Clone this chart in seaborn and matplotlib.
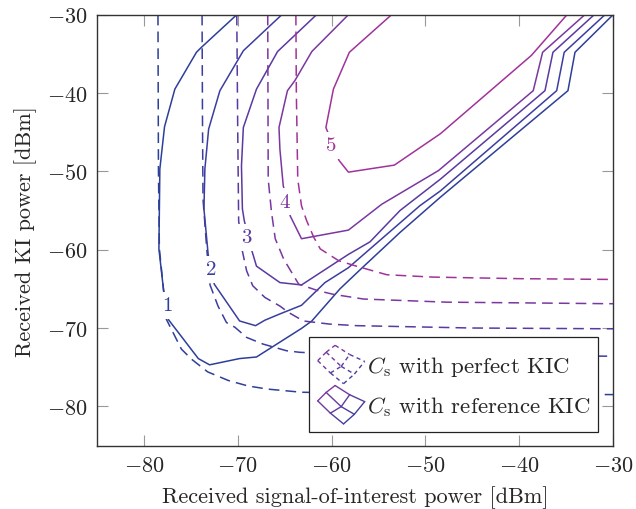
import numpy as np
import pandas as pd
import matplotlib
matplotlib.use("Agg")
import matplotlib.pyplot as plt
import seaborn as sns
from matplotlib.legend_handler import HandlerBase
from matplotlib.lines import Line2D
from matplotlib.colors import to_rgb

# contour levels of C_s and their colours
levels = [1, 2, 3, 4, 5]
level_colors = ["#2d3f98", "#3b3d9f", "#5a39a1", "#7b37a0", "#a0339a"]

# C_s with reference KIC (solid contours)
ref_x1 = [-70.1, -73.9, -74.4, -76.7, -77.8, -78.3, -78.4, -77.9, -77.4, -74.2, -73.0, -69.8, -68.0,
          -63.2, -62.1, -59.1, -56.9, -52.7, -48.4, -34.8, -34.05, -29.9]
ref_y1 = [-30, -34.2, -34.8, -39.5, -44.3, -49.7, -59.9, -65.2, -68.9, -73.9, -74.7, -73.9, -73.7,
          -70.05, -69.1, -65.0, -62.5, -57.8, -53.3, -39.7, -34.8, -29.9]
ref_x2 = [-65.3, -69.4, -71.9, -73.1, -73.5, -73.6, -73.15, -72.5, -69.8, -68.1, -67.1, -65.5, -63.2,
          -60.7, -58.2, -55.7, -50.6, -48.4, -36.0, -35.2, -30.85]
ref_y2 = [-30, -34.6, -39.7, -44.6, -49.7, -54.8, -60.6, -64.4, -69.1, -69.7, -69.0, -68.2, -67.1,
          -64.2, -62.3, -59.7, -54.4, -52.5, -39.7, -34.8, -30]
ref_x3 = [-61.6, -65.75, -68.0, -69.4, -69.6, -69.5, -69.3, -68.5, -68.0, -65.5, -63.2, -58.2, -55.9,
          -52.7, -48.4, -37.25, -36.4, -32.0]
ref_y3 = [-30, -34.7, -39.5, -44.4, -49.3, -54.8, -56.3, -60.1, -62.1, -64.2, -64.5, -60.6, -59.0,
          -55.0, -51.0, -39.7, -34.8, -30]
ref_x4 = [-58.2, -62.1, -63.9, -64.7, -65.6, -65.5, -65.15, -64.4, -63.2, -58.2, -54.65, -48.6,
          -38.5, -37.5, -33.0]
ref_y4 = [-30, -34.7, -38.4, -39.7, -44.4, -47.2, -51.8, -55.7, -58.6, -57.5, -54.2, -49.9,
          -39.7, -34.8, -30]
ref_x5 = [-53.6, -58.1, -59.8, -60.6, -59.2, -58.2, -53.3, -48.4, -38.7, -34.9]
ref_y5 = [-30, -34.8, -39.5, -44.4, -48.6, -50.1, -49.2, -45.2, -35.2, -30]

# C_s with perfect KIC (dashed contours)
per_x1 = [-78.5, -78.45, -78.35, -77.95, -77.6, -76.0, -74.9, -73.2, -71.0, -68.9, -66.8, -63.2, -52.7, -30]
per_y1 = [-30, -49.7, -59.9, -64.6, -68.9, -72.7, -74.0, -75.6, -76.7, -77.4, -77.8, -78.2, -78.4, -78.5]
per_x2 = [-73.8, -73.75, -73.7, -73.3, -72.95, -72.1, -71.2, -70.3, -69.05, -67.3, -64.8, -63.4, -58.0, -30]
per_y2 = [-30, -44.6, -53.5, -59.9, -64.5, -67.2, -69.3, -69.9, -71.2, -72.05, -72.9, -73.1, -73.4, -73.6]
per_x3 = [-70.1, -70.0, -69.9, -69.5, -69.05, -68.4, -67.1, -65.5, -64.6, -63.0, -60.2, -57.3, -45, -30]
per_y3 = [-30, -44.6, -56.3, -60.2, -62.7, -64.6, -66.1, -67.2, -68.0, -69.1, -69.5, -69.7, -70.0, -70.1]
per_x4 = [-66.8, -66.75, -66.4, -66.0, -65.1, -63.5, -61.4, -59.8, -56.6, -47.7, -30]
per_y4 = [-30, -51.0, -55.2, -58.6, -61.2, -64.4, -65.25, -65.7, -66.3, -66.7, -66.9]
per_x5 = [-63.8, -63.75, -63.6, -63.2, -62.65, -61.9, -61.2, -59.25, -57.5, -54.1, -49.2, -40, -30]
per_y5 = [-30, -40, -51.0, -54.4, -56.3, -58.4, -59.9, -61.4, -62.05, -63.2, -63.5, -63.7, -63.8]

# contour label positions
label_x = [-77.5, -72.85, -69.05, -65.0, -60.0]
label_y = [-67.1, -62.5, -58.4, -53.9, -46.7]

ref_x = [ref_x1, ref_x2, ref_x3, ref_x4, ref_x5]
ref_y = [ref_y1, ref_y2, ref_y3, ref_y4, ref_y5]
per_x = [per_x1, per_x2, per_x3, per_x4, per_x5]
per_y = [per_y1, per_y2, per_y3, per_y4, per_y5]

frames = []
for lev, xs, ys in zip(levels, per_x, per_y):
    frames.append(pd.DataFrame({"x": xs, "y": ys, "level": lev, "kind": "perfect"}))
for lev, xs, ys in zip(levels, ref_x, ref_y):
    frames.append(pd.DataFrame({"x": xs, "y": ys, "level": lev, "kind": "reference"}))
df = pd.concat(frames, ignore_index=True)

sns.set_theme(style="ticks")
plt.rcParams.update({
    "font.family": "serif",
    "font.serif": ["cmr10"],
    "mathtext.fontset": "cm",
    "axes.formatter.use_mathtext": True,
})

fig, ax = plt.subplots(figsize=(6.36, 5.1), dpi=100)
fig.subplots_adjust(left=0.1525, right=0.9638, bottom=0.1245, top=0.9692)

palette = dict(zip(levels, level_colors))
sns.lineplot(data=df, x="x", y="y", hue="level", style="kind", palette=palette,
             dashes={"perfect": (7, 4), "reference": ""}, sort=False, estimator=None,
             linewidth=1.1, legend=False, ax=ax)

for lev, lx, ly, c in zip(levels, label_x, label_y, level_colors):
    ax.text(lx, ly, str(lev), color=c, fontsize=15, ha="center", va="center", zorder=5,
            bbox=dict(boxstyle="square,pad=0.22", fc="white", ec="none"))

ax.set_xlim(-85, -30)
ax.set_ylim(-85, -30)
ax.set_xticks(np.arange(-80, -29, 10))
ax.set_yticks(np.arange(-80, -29, 10))
ax.tick_params(direction="in", length=8, width=0.8, color="#999999", top=True, right=True,
               labelsize=16, pad=7)
for sp in ax.spines.values():
    sp.set_color("#333333")
    sp.set_linewidth(1.0)
ax.set_xlabel("Received signal-of-interest power [dBm]", fontsize=16, labelpad=7)
ax.set_ylabel("Received KI power [dBm]", fontsize=16, labelpad=7)


# legend icon: a small warped 2x2 contour mesh
mesh = [[(0.0, 0.6), (0.18, 0.82), (0.37, 1.0)],
        [(0.27, 0.28), (0.50, 0.45), (0.68, 0.76)],
        [(0.55, 0.0), (0.78, 0.25), (1.0, 0.58)]]
c_tl = np.array(to_rgb("#7e37a0"))
c_br = np.array(to_rgb("#3340a0"))


class MeshHandler(HandlerBase):
    def __init__(self, dashed):
        super().__init__()
        self.dashed = dashed

    def create_artists(self, legend, orig_handle, xdescent, ydescent, width, height, fontsize, trans):
        segs = []
        for i in range(3):
            for j in range(2):
                segs.append((mesh[i][j], mesh[i][j + 1]))
                segs.append((mesh[j][i], mesh[j + 1][i]))
        arts = []
        for (x0, y0), (x1, y1) in segs:
            t = np.clip(((x0 + x1) / 2 - (y0 + y1) / 2 + 0.6) / 1.4, 0, 1)
            col = c_tl * (1 - t) + c_br * t
            ln = Line2D([-xdescent + x0 * width, -xdescent + x1 * width],
                        [-ydescent + y0 * height, -ydescent + y1 * height],
                        color=col, lw=1.0, transform=trans)
            if self.dashed:
                ln.set_dashes((3, 2.5))
            arts.append(ln)
        return arts


h_per = Line2D([], [])
h_ref = Line2D([], [])
leg = ax.legend([h_per, h_ref], [r"$C_\mathrm{s}$ with perfect KIC", r"$C_\mathrm{s}$ with reference KIC"],
                handler_map={h_per: MeshHandler(True), h_ref: MeshHandler(False)},
                loc="lower right", bbox_to_anchor=(0.971, 0.031), borderaxespad=0, fontsize=16.5,
                handlelength=2.05, handleheight=2.2, handletextpad=0.08, labelspacing=0.08,
                borderpad=0.36, fancybox=False, framealpha=1, edgecolor="#222222")
leg.get_frame().set_linewidth(0.9)

fig.savefig("out.png", dpi=100)
